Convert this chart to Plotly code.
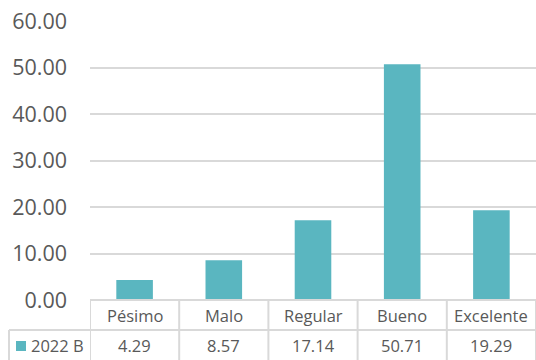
import plotly.graph_objects as go

# Survey ratings and their percentages
categories = ["Pésimo", "Malo", "Regular", "Bueno", "Excelente"]
values = [4.29, 8.57, 17.14, 50.71, 19.29]
series_name = "2022 B"
y_ticks = [0, 10, 20, 30, 40, 50, 60]

W, H = 536, 360
M_L, M_R, M_T, M_B = 90, 0, 21, 60
BAR_COLOR = "#5AB6C0"
GRID = "#D9D9D9"
TEXT = "#595959"
FONT = "Open Sans"

plot_h = H - M_T - M_B
plot_w = W - M_L - M_R


def py(pixel_y):
    """Convert a page pixel row to paper y coordinate."""
    return (H - M_B - pixel_y) / plot_h


def px(pixel_x):
    """Convert a page pixel column to paper x coordinate."""
    return (pixel_x - M_L) / plot_w


fig = go.Figure(
    go.Bar(
        x=categories,
        y=values,
        name=series_name,
        marker=dict(color=BAR_COLOR, line=dict(width=0)),
        width=0.41,
    )
)

# Data table underneath the plot: grid lines
line = dict(color=GRID, width=2)
shapes = [
    # top of the category row
    dict(type="line", xref="paper", yref="paper", x0=0, x1=1, y0=py(300), y1=py(300), line=line),
    # separator between category row and value row
    dict(type="line", xref="paper", yref="paper", x0=px(9), x1=1, y0=py(330), y1=py(330), line=line),
    # left edge of the series label cell
    dict(type="line", xref="paper", yref="paper", x0=px(9), x1=px(9), y0=py(330), y1=py(362), line=line),
]
n = len(categories)
for i in range(n + 1):
    xb = i - 0.5
    shapes.append(
        dict(type="line", xref="x", yref="paper", x0=xb, x1=xb, y0=py(300), y1=py(362), line=line)
    )
# legend key square
shapes.append(
    dict(type="rect", xref="paper", yref="paper", x0=px(16), x1=px(26), y0=py(351), y1=py(341),
         fillcolor=BAR_COLOR, line=dict(width=0))
)

table_font = dict(family=FONT, size=16.5, color=TEXT)
annotations = []
for c, v in zip(categories, values):
    annotations.append(dict(x=c, y=py(315), xref="x", yref="paper", text=c, showarrow=False,
                            font=table_font, xanchor="center", yanchor="middle"))
    annotations.append(dict(x=c, y=py(345), xref="x", yref="paper", text=f"{v:.2f}", showarrow=False,
                            font=table_font, xanchor="center", yanchor="middle"))
annotations.append(dict(x=px(29), y=py(345), xref="paper", yref="paper", text=series_name, showarrow=False,
                        font=table_font, xanchor="left", yanchor="middle"))

fig.update_layout(
    width=W,
    height=H,
    margin=dict(l=M_L, r=M_R, t=M_T, b=M_B),
    paper_bgcolor="white",
    plot_bgcolor="white",
    showlegend=False,
    shapes=shapes,
    annotations=annotations,
    xaxis=dict(showticklabels=False, showgrid=False, zeroline=False, showline=False,
               range=[-0.5, n - 0.5], fixedrange=True),
    yaxis=dict(range=[0, 60], tickvals=y_ticks, ticktext=[f"{t:.2f}" for t in y_ticks],
               showgrid=True, gridcolor=GRID, gridwidth=2, zeroline=False, showline=False,
               ticks="", ticklabelstandoff=22,
               tickfont=dict(family=FONT, size=21.5, color=TEXT), fixedrange=True),
)

fig.write_html("out.html")
